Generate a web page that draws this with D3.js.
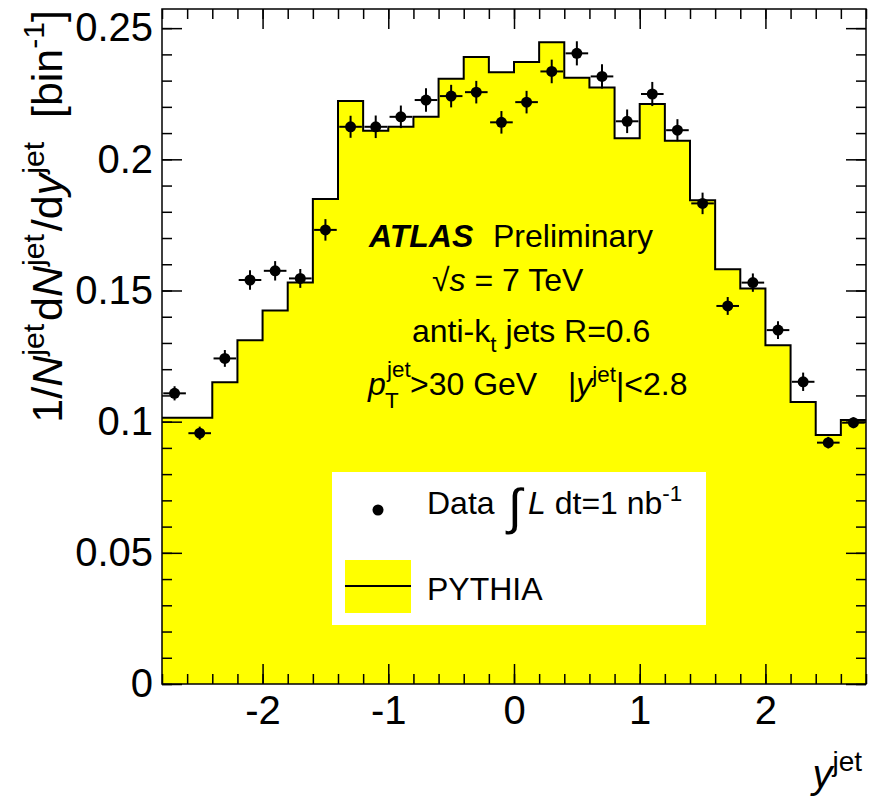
<!DOCTYPE html>
<html>
<head>
<meta charset="utf-8">
<script src="https://cdn.jsdelivr.net/npm/d3@7"></script>
<style>
  body { margin: 0; background: #fff; }
  text { font-family: "Liberation Sans", Arial, Helvetica, sans-serif; fill: #000; }
</style>
</head>
<body>
<div id="chart"></div>
<script>
const WIDTH = 876, HEIGHT = 802;
const FRAME = { LEFT: 162, RIGHT: 866, TOP: 9, BOTTOM: 684 };

// DATA
const binCenters = [-2.7, -2.5, -2.3, -2.1, -1.9, -1.7, -1.5, -1.3, -1.1, -0.9, -0.7, -0.5, -0.3, -0.1,
  0.1, 0.3, 0.5, 0.7, 0.9, 1.1, 1.3, 1.5, 1.7, 1.9, 2.1, 2.3, 2.5, 2.7];
const binWidth = 0.2;
const pythia = [0.1015, 0.1015, 0.1150, 0.1310, 0.1424, 0.1530, 0.1849, 0.2222, 0.2109, 0.2124,
  0.2162, 0.2307, 0.2390, 0.2332, 0.2371, 0.2446, 0.2311, 0.2274, 0.2080, 0.2211,
  0.2071, 0.1844, 0.1581, 0.1508, 0.1291, 0.1075, 0.0949, 0.1006];
const dataValues = [0.1108, 0.0956, 0.1241, 0.1540, 0.1575, 0.1546, 0.1731, 0.2124, 0.2124, 0.2162,
  0.2226, 0.2241, 0.2256, 0.2141, 0.2218, 0.2335, 0.2404, 0.2316, 0.2145, 0.2249,
  0.2111, 0.1832, 0.1441, 0.1530, 0.1349, 0.1152, 0.0920, 0.0996];
const dataErrors = [0.0027, 0.0025, 0.0032, 0.0037, 0.0037, 0.0036, 0.0041, 0.0042, 0.0043, 0.0043,
  0.0045, 0.0043, 0.0043, 0.0043, 0.0043, 0.0045, 0.0046, 0.0046, 0.0045, 0.0046,
  0.0042, 0.0041, 0.0034, 0.0035, 0.0034, 0.0035, 0.0022, 0.0021];
const xMajorTicks = [-2, -1, 0, 1, 2];
const yMajorTicks = [0, 0.05, 0.1, 0.15, 0.2, 0.25];
const xDomain = [-2.8, 2.8];
const yDomain = [0, 0.2573];

const svg = d3.select("#chart").append("svg")
  .attr("width", WIDTH)
  .attr("height", HEIGHT);

const x = d3.scaleLinear().domain(xDomain).range([FRAME.LEFT, FRAME.RIGHT]);
const y = d3.scaleLinear().domain(yDomain).range([FRAME.BOTTOM, FRAME.TOP]);

// HISTOGRAM (PYTHIA)
const steps = [];
binCenters.forEach((c, i) => {
  steps.push([c - binWidth / 2, pythia[i]]);
  steps.push([c + binWidth / 2, pythia[i]]);
});

svg.append("path")
  .datum(steps)
  .attr("fill", "#ffff00")
  .attr("d", d3.area().x((d) => x(d[0])).y0(y(0)).y1((d) => y(d[1])));

svg.append("path")
  .datum(steps)
  .attr("fill", "none")
  .attr("stroke", "#000")
  .attr("stroke-width", 2)
  .attr("d", d3.line().x((d) => x(d[0])).y((d) => y(d[1])));

// DATA POINTS
const points = svg.append("g")
  .selectAll("g")
  .data(binCenters.map((c, i) => ({ c: c, v: dataValues[i], e: dataErrors[i] })))
  .join("g");

points.append("line")
  .attr("x1", (d) => x(d.c)).attr("x2", (d) => x(d.c))
  .attr("y1", (d) => y(d.v - d.e)).attr("y2", (d) => y(d.v + d.e))
  .attr("stroke", "#000").attr("stroke-width", 2);
points.append("line")
  .attr("x1", (d) => x(d.c - binWidth * 0.45)).attr("x2", (d) => x(d.c + binWidth * 0.45))
  .attr("y1", (d) => y(d.v)).attr("y2", (d) => y(d.v))
  .attr("stroke", "#000").attr("stroke-width", 2);
points.append("circle")
  .attr("cx", (d) => x(d.c)).attr("cy", (d) => y(d.v))
  .attr("r", 5.5).attr("fill", "#000");

// AXES (ticks inside, mirrored)
const xMinor = d3.range(-2.8, 2.81, 0.2).map((d) => Math.round(d * 10) / 10);
const yMinor = d3.range(0, 0.2501, 0.01).map((d) => Math.round(d * 100) / 100);

function styleAxis(g) {
  g.select(".domain").remove();
  g.selectAll(".tick line").attr("stroke", "#000").attr("stroke-width", 1.5);
  g.selectAll(".tick text").attr("font-size", 40).attr("font-family", "Liberation Sans, Arial, sans-serif").attr("fill", "#000");
}

svg.append("g").attr("transform", `translate(0, ${FRAME.BOTTOM})`)
  .call(d3.axisBottom(x).tickValues(xMinor).tickSize(-10).tickFormat(""))
  .call(styleAxis);
svg.append("g").attr("transform", `translate(0, ${FRAME.BOTTOM})`)
  .call(d3.axisBottom(x).tickValues(xMajorTicks).tickSize(-20).tickPadding(12).tickFormat((d) => String(d)))
  .call(styleAxis);
svg.append("g").attr("transform", `translate(0, ${FRAME.TOP})`)
  .call(d3.axisTop(x).tickValues(xMinor).tickSize(-10).tickFormat(""))
  .call(styleAxis);
svg.append("g").attr("transform", `translate(0, ${FRAME.TOP})`)
  .call(d3.axisTop(x).tickValues(xMajorTicks).tickSize(-20).tickFormat(""))
  .call(styleAxis);

svg.append("g").attr("transform", `translate(${FRAME.LEFT}, 0)`)
  .call(d3.axisLeft(y).tickValues(yMinor).tickSize(-10).tickFormat(""))
  .call(styleAxis);
svg.append("g").attr("transform", `translate(${FRAME.LEFT}, 0)`)
  .call(d3.axisLeft(y).tickValues(yMajorTicks).tickSize(-20).tickPadding(9).tickFormat((d) => String(d)))
  .call(styleAxis);
svg.append("g").attr("transform", `translate(${FRAME.RIGHT}, 0)`)
  .call(d3.axisRight(y).tickValues(yMinor).tickSize(-10).tickFormat(""))
  .call(styleAxis);
svg.append("g").attr("transform", `translate(${FRAME.RIGHT}, 0)`)
  .call(d3.axisRight(y).tickValues(yMajorTicks).tickSize(-20).tickFormat(""))
  .call(styleAxis);

// FRAME
svg.append("rect")
  .attr("x", FRAME.LEFT).attr("y", FRAME.TOP)
  .attr("width", FRAME.RIGHT - FRAME.LEFT).attr("height", FRAME.BOTTOM - FRAME.TOP)
  .attr("fill", "none").attr("stroke", "#000").attr("stroke-width", 1.5);

// rich text helper: parts = [{t, s: "sup"|"sub", i: italic, b: bold, size}]
function rich(text, parts, size) {
  let shift = 0;
  parts.forEach((p) => {
    const target = p.s === "sup" ? -0.42 * size : p.s === "sub" ? 0.3 * size : 0;
    const ts = text.append("tspan").attr("dy", target - shift).text(p.t);
    if (p.s) ts.attr("font-size", size * 0.7);
    if (p.size) ts.attr("font-size", p.size);
    if (p.i) ts.attr("font-style", "italic");
    if (p.b) ts.attr("font-weight", "bold");
    if (p.dx) ts.attr("dx", p.dx);
    shift = target;
  });
}

// AXIS TITLES
const yTitle = svg.append("text")
  .attr("transform", "translate(62, 10) rotate(-90)")
  .attr("text-anchor", "end")
  .attr("font-size", 43);
rich(yTitle, [
  { t: "1/" }, { t: "N", i: true }, { t: "jet", s: "sup" },
  { t: "d", dx: 3 }, { t: "N", i: true }, { t: "jet", s: "sup" },
  { t: "/d", dx: 3 }, { t: "y", i: true }, { t: "jet", s: "sup" },
  { t: "\u00a0\u00a0[bin" }, { t: "-1", s: "sup" }, { t: "]" }
], 43);

const xTitle = svg.append("text")
  .attr("x", 862).attr("y", 788)
  .attr("text-anchor", "end")
  .attr("font-size", 40);
rich(xTitle, [{ t: "y", i: true }, { t: "jet", s: "sup" }], 40);

// LABEL BLOCK
const TS = 32;
svg.append("text").attr("x", 369).attr("y", 247).attr("font-size", TS)
  .attr("font-weight", "bold").attr("font-style", "italic").text("ATLAS");
svg.append("text").attr("x", 493).attr("y", 247).attr("font-size", TS).text("Preliminary");

const line2 = svg.append("text").attr("x", 432).attr("y", 291).attr("font-size", TS);
rich(line2, [{ t: "\u221a" }, { t: "s", i: true }, { t: " = 7 TeV" }], TS);

const line3 = svg.append("text").attr("x", 412).attr("y", 342).attr("font-size", TS);
rich(line3, [{ t: "anti-k" }, { t: "t", s: "sub" }, { t: " jets R=0.6" }], TS);

svg.append("text").attr("x", 368).attr("y", 395).attr("font-size", TS)
  .attr("font-style", "italic").text("p");
svg.append("text").attr("x", 387).attr("y", 377).attr("font-size", TS * 0.7).text("jet");
svg.append("text").attr("x", 385).attr("y", 408).attr("font-size", TS * 0.7).text("T");
svg.append("text").attr("x", 410).attr("y", 395).attr("font-size", TS).text(">30 GeV");
const line4b = svg.append("text").attr("x", 568).attr("y", 395).attr("font-size", TS);
rich(line4b, [{ t: "|" }, { t: "y", i: true }, { t: "jet", s: "sup" }, { t: "|<2.8" }], TS);

// LEGEND
const legend = svg.append("g");
legend.append("rect")
  .attr("x", 332).attr("y", 472).attr("width", 374).attr("height", 153)
  .attr("fill", "#fff");
legend.append("circle").attr("cx", 378).attr("cy", 510).attr("r", 5.5).attr("fill", "#000");
legend.append("text").attr("x", 427).attr("y", 514).attr("font-size", TS).text("Data");
legend.append("text").attr("x", 508).attr("y", 524).attr("font-size", 50).text("\u222b");
const lum = legend.append("text").attr("x", 528).attr("y", 514).attr("font-size", TS);
rich(lum, [{ t: "L", i: true }, { t: " dt=1 nb" }, { t: "-1", s: "sup" }], TS);

legend.append("rect")
  .attr("x", 345).attr("y", 560).attr("width", 66).attr("height", 53)
  .attr("fill", "#ffff00");
legend.append("line")
  .attr("x1", 345).attr("x2", 411).attr("y1", 586).attr("y2", 586)
  .attr("stroke", "#000").attr("stroke-width", 2);
legend.append("text").attr("x", 427).attr("y", 600).attr("font-size", TS).text("PYTHIA");
</script>
</body>
</html>
